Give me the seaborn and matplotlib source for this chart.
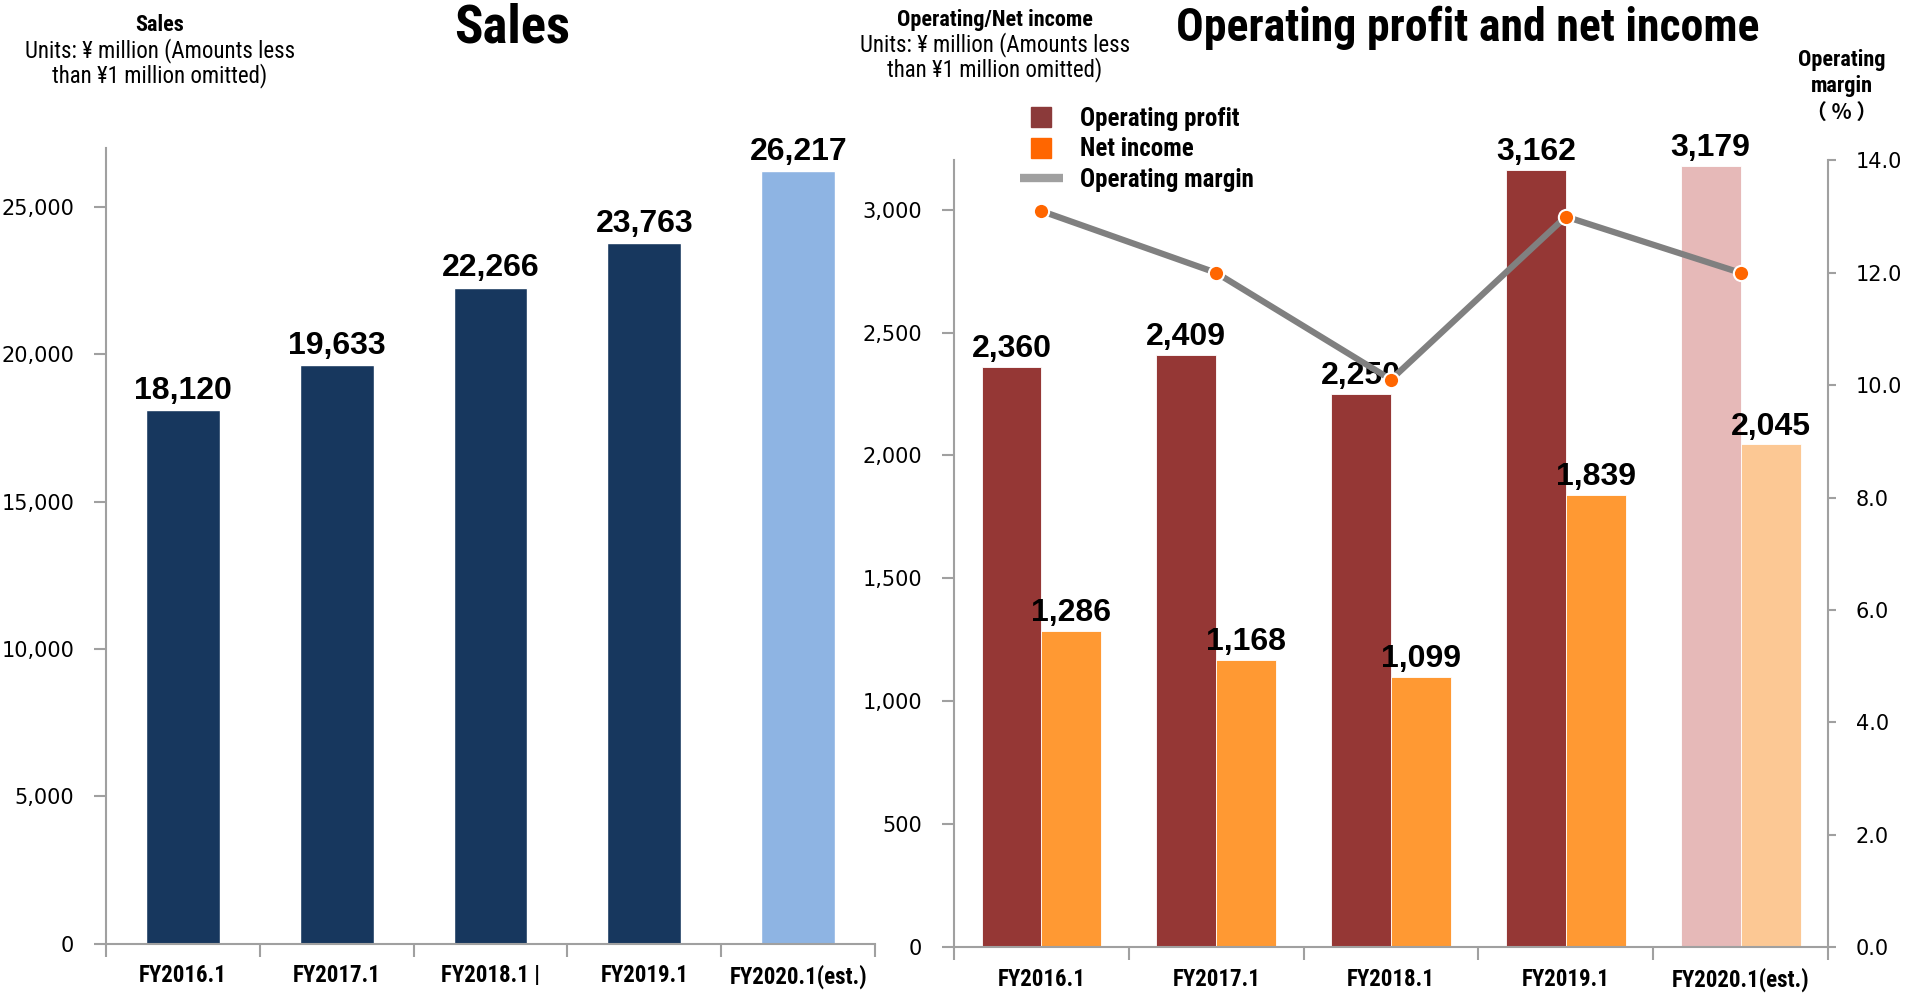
import numpy as np
import pandas as pd
import seaborn as sns
import matplotlib.pyplot as plt
from matplotlib import font_manager
from matplotlib.lines import Line2D
from matplotlib.ticker import FuncFormatter, FixedLocator

categories = ["FY2016.1", "FY2017.1", "FY2018.1", "FY2019.1", "FY2020.1(est.)"]
sales_tick_labels = ["FY2016.1", "FY2017.1", "FY2018.1 |", "FY2019.1", "FY2020.1(est.)"]
sales = [18120, 19633, 22266, 23763, 26217]
operating_profit = [2360, 2409, 2250, 3162, 3179]
net_income = [1286, 1168, 1099, 1839, 2045]
operating_margin = [13.1, 12.0, 10.1, 13.0, 12.0]

sales_colors = ["#17375E"] * 4 + ["#8EB4E3"]
profit_colors = ["#953735"] * 4 + ["#E6B9B8"]
income_colors = ["#FF9933"] * 4 + ["#FCC894"]

sns.set_style("white")
plt.rcParams['font.family'] = ['DejaVu Sans']
for k in ["text.color", "axes.labelcolor", "xtick.color", "ytick.color"]:
    plt.rcParams[k] = "black"


def find_narrow():
    # the reference uses a condensed face; take whatever condensed face is installed
    fonts = font_manager.fontManager.ttflist
    wanted = ["Liberation Sans Narrow", "Noto Sans Condensed", "Roboto Condensed",
              "Open Sans Condensed", "DejaVu Sans Condensed"]
    names = {f.name for f in fonts}
    for w in wanted:
        if w in names:
            return w, "normal", 1.0
    for fam in ["Noto Sans", "Roboto", "Open Sans", "DejaVu Sans"]:
        for f in fonts:
            if f.name == fam and f.stretch in ("condensed", "semi-condensed") and f.weight in (700, "bold"):
                return fam, f.stretch, 1.0
    return "Liberation Sans", "normal", 0.85


NARROW, STRETCH, K = find_narrow()
narrow = dict(family=NARROW, fontstretch=STRETCH)
GRAY = "#A0A0A0"

fig = plt.figure(figsize=(19.07, 9.93), dpi=100)


def style_axis(ax, n):
    ax.set_xlim(-0.5, n - 0.5)
    for s in ["top", "right"]:
        ax.spines[s].set_visible(False)
    for s in ["left", "bottom"]:
        ax.spines[s].set_color(GRAY)
        ax.spines[s].set_linewidth(1.5)
    # category separators as major ticks, labels on minor ticks
    ax.xaxis.set_major_locator(FixedLocator(np.arange(n + 1) - 0.5))
    ax.xaxis.set_major_formatter(FuncFormatter(lambda v, p: ""))
    ax.xaxis.set_minor_locator(FixedLocator(np.arange(n)))
    ax.tick_params(axis="x", which="major", length=9, width=1.5, color=GRAY, direction="out", bottom=True)
    ax.tick_params(axis="x", which="minor", length=0, pad=15, bottom=True)
    ax.tick_params(axis="y", length=9, width=1.5, color=GRAY, direction="out", left=True,
                   labelsize=15, pad=14)
    ax.set_xlabel("")
    ax.set_ylabel("")
    ax.grid(False)


# ---- Sales
ax1 = fig.add_axes([0.0556, 0.0497, 0.4033, 0.8012])
sns.barplot(x=categories, y=sales, hue=categories, palette=sales_colors, legend=False,
            width=0.48, saturation=1, ax=ax1)
style_axis(ax1, len(categories))
ax1.set_ylim(0, 27000)
ax1.set_yticks(range(0, 25001, 5000))
ax1.yaxis.set_major_formatter(FuncFormatter(lambda v, p: f"{v:,.0f}"))
ax1.set_xticks(np.arange(len(categories)), sales_tick_labels, minor=True,
               fontsize=16.5 * K, fontweight="bold", **narrow)
for c in ax1.containers:
    ax1.bar_label(c, fmt="{:,.0f}", fontsize=23, fontweight="bold", family="Liberation Sans", padding=3)

# ---- Operating profit / net income
ax2 = fig.add_axes([0.5003, 0.0463, 0.4583, 0.7921])
df = pd.DataFrame({
    "year": categories * 2,
    "value": operating_profit + net_income,
    "series": ["Operating profit"] * len(categories) + ["Net income"] * len(categories),
})
sns.barplot(data=df, x="year", y="value", hue="series", width=0.686, saturation=1,
            legend=False, ax=ax2)
for container, colors in zip(ax2.containers, [profit_colors, income_colors]):
    for bar, col in zip(container, colors):
        bar.set_facecolor(col)
        bar.set_edgecolor("white")
        bar.set_linewidth(0.6)
    ax2.bar_label(container, fmt="{:,.0f}", fontsize=23, fontweight="bold",
                  family="Liberation Sans", padding=2)
style_axis(ax2, len(categories))
ax2.set_ylim(0, 3200)
ax2.set_yticks(range(0, 3001, 500))
ax2.yaxis.set_major_formatter(FuncFormatter(lambda v, p: f"{v:,.0f}"))
ax2.set_xticks(np.arange(len(categories)), categories, minor=True,
               fontsize=16.5 * K, fontweight="bold", **narrow)

ax3 = ax2.twinx()
sns.lineplot(x=np.arange(len(categories)), y=operating_margin, ax=ax3, color="#808080",
             linewidth=4.5, marker="o", markersize=11, markerfacecolor="#FF6600",
             markeredgecolor="white", markeredgewidth=1.5)
ax3.set_ylim(0, 14)
ax3.set_yticks(np.arange(0, 14.1, 2))
ax3.yaxis.set_major_formatter(FuncFormatter(lambda v, p: f"{v:.1f}"))
for s in ["top", "left", "bottom"]:
    ax3.spines[s].set_visible(False)
ax3.spines["right"].set_visible(True)
ax3.spines["right"].set_color(GRAY)
ax3.spines["right"].set_linewidth(1.5)
ax3.tick_params(axis="y", length=6, width=1.5, color=GRAY, direction="out", right=True,
                labelsize=15, pad=14)
ax3.set_ylabel("")
ax3.grid(False)

handles = [
    Line2D([], [], marker="s", ls="none", color="#8B3A3A", markersize=14),
    Line2D([], [], marker="s", ls="none", color="#FF6600", markersize=14),
    Line2D([], [], color=GRAY, lw=6, solid_capstyle="butt"),
]
fig.legend(handles, ["Operating profit", "Net income", "Operating margin"],
           loc="upper left", bbox_to_anchor=(0.535, 0.892), frameon=False,
           prop={"family": NARROW, "stretch": STRETCH, "weight": "bold", "size": 18 * K},
           handlelength=1.7, labelspacing=0.25, handletextpad=0.7, borderpad=0, borderaxespad=0)

# ---- titles and notes
H = 993.0
W = 1907.0
fig.text(512 / W, 1 - 28 / H, "Sales", ha="center", va="center", fontsize=38 * K,
         fontweight="bold", **narrow)
fig.text(1468 / W, 1 - 28 / H, "Operating profit and net income", ha="center", va="center",
         fontsize=33 * K, fontweight="bold", **narrow)

fig.text(160 / W, 1 - 25 / H, "Sales", ha="center", va="center", fontsize=16 * K,
         fontweight="bold", **narrow)
fig.text(160 / W, 1 - 63 / H, "Units: ¥ million (Amounts less\nthan ¥1 million omitted)",
         ha="center", va="center", fontsize=16.5 * K, linespacing=1.05, **narrow)

fig.text(995 / W, 1 - 20 / H, "Operating/Net income", ha="center", va="center", fontsize=16 * K,
         fontweight="bold", **narrow)
fig.text(995 / W, 1 - 57 / H, "Units: ¥ million (Amounts less\nthan ¥1 million omitted)",
         ha="center", va="center", fontsize=16.5 * K, linespacing=1.05, **narrow)

fig.text(1842 / W, 1 - 73 / H, "Operating\nmargin", ha="center", va="center",
         fontsize=16 * K, fontweight="bold", linespacing=1.2, **narrow)
fig.text(1842 / W, 1 - 112 / H, "（ % ）", ha="center", va="center",
         fontsize=15, fontweight="bold", family=["Noto Sans CJK JP", "DejaVu Sans"])

fig.savefig("out.png", dpi=100)
